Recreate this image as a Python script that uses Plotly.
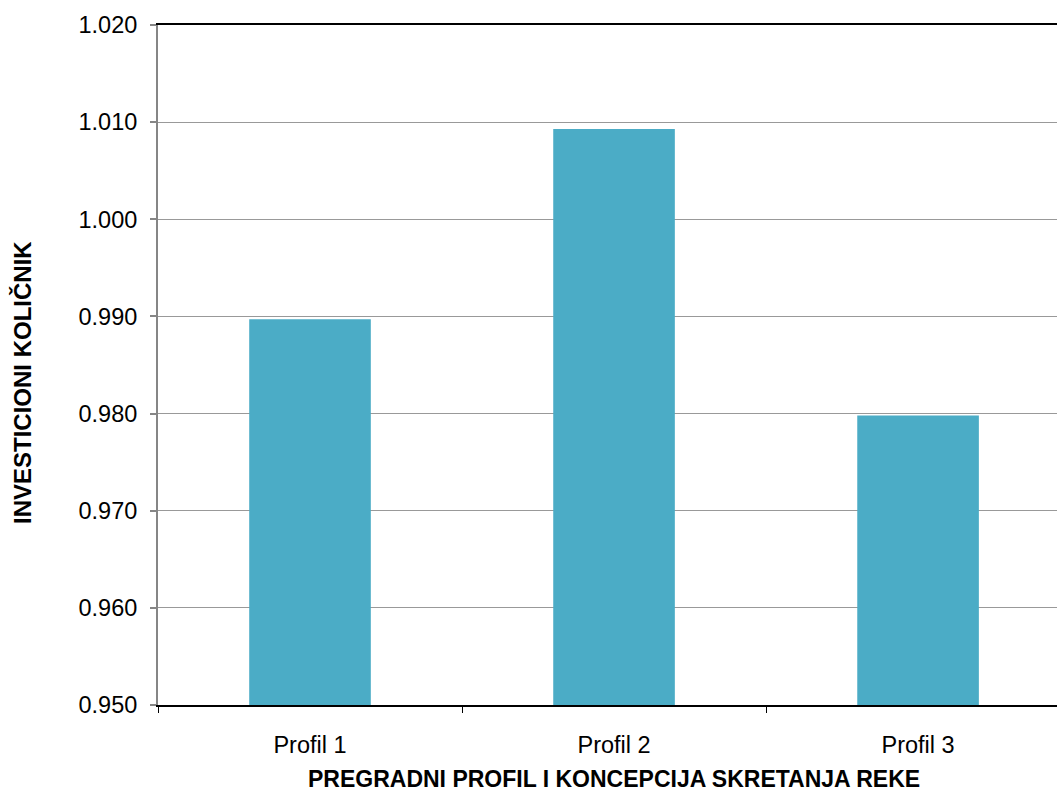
import plotly.graph_objects as go

categories = ["Profil 1", "Profil 2", "Profil 3"]
values = [0.9897, 1.0093, 0.9798]
y_ticks = [0.950, 0.960, 0.970, 0.980, 0.990, 1.000, 1.010, 1.020]
y_tick_labels = ["0.950", "0.960", "0.970", "0.980", "0.990", "1.000", "1.010", "1.020"]

FONT = "Liberation Sans, Arial, sans-serif"

fig = go.Figure(go.Bar(
    x=categories, y=values,
    marker=dict(color="#4BACC6", line=dict(width=0)),
    width=0.4,
))

fig.update_layout(
    width=1057, height=793,
    margin=dict(l=158, r=0, t=25, b=88),
    paper_bgcolor="white", plot_bgcolor="white",
    showlegend=False,
    font=dict(family=FONT, size=23.5, color="black"),
    xaxis=dict(
        range=[-0.5, 2.457],
        showline=True, linecolor="black", linewidth=2, mirror=True,
        ticks="outside", tickson="boundaries", ticklen=6, tickcolor="black", tickwidth=1,
        tickfont=dict(size=23.5),
        ticklabelstandoff=18,
        showgrid=False, zeroline=False,
    ),
    yaxis=dict(
        range=[0.95, 1.02],
        tickvals=y_ticks, ticktext=y_tick_labels,
        showline=True, linecolor="#868686", linewidth=2,
        ticks="outside", ticklen=6, tickcolor="#868686", tickwidth=1.5,
        showgrid=True, gridcolor="#999999", gridwidth=1.3,
        zeroline=False,
        tickfont=dict(size=23.5),
        ticklabelstandoff=8,
    ),
    annotations=[
        dict(text="<b>INVESTICIONI KOLIČNIK</b>", xref="paper", yref="paper",
             x=-158/899 + 22/899, y=(705 - 383) / 680, xanchor="center", yanchor="middle",
             textangle=-90, showarrow=False, font=dict(family=FONT, size=24)),
        dict(text="<b>PREGRADNI PROFIL I KONCEPCIJA SKRETANJA REKE</b>", xref="paper", yref="paper",
             x=(614 - 158) / 899, y=-(779 - 705) / 680, xanchor="center", yanchor="middle",
             showarrow=False, font=dict(family=FONT, size=23)),
    ],
)

fig.write_html("out.html")
